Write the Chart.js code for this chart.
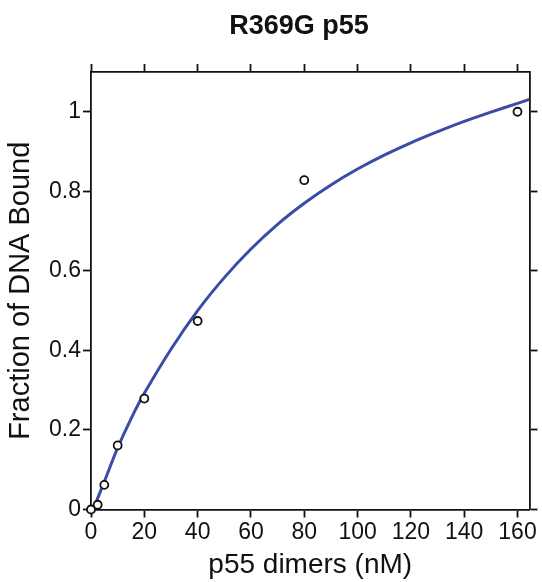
<!DOCTYPE html>
<html lang="en">
<head>
  <meta charset="UTF-8" />
  <title>R369G p55</title>
  <script src="https://cdn.jsdelivr.net/npm/chart.js"></script>
  <style>
    body {
      margin: 0;
      background: #fff;
    }
    canvas {
      display: block;
    }
  </style>
</head>
<body>

<canvas id="grafico" width="542" height="582"></canvas>

<script>
  // Datos medidos
  const dimerosNM = [0, 2.5, 5, 10, 20, 40, 80, 160];
  const fraccionUnida = [0, 0.012, 0.062, 0.161, 0.279, 0.474, 0.828, 1.0];

  // Curva ajustada
  const ajusteX = [0.8, 5, 10, 15, 20, 30, 40, 50, 60, 70, 80, 90, 100, 110, 120, 130, 140, 150, 160, 164.5];
  const ajusteY = [0, 0.07, 0.155, 0.228, 0.292, 0.403, 0.5, 0.583, 0.655, 0.717, 0.77, 0.816, 0.856, 0.891, 0.922, 0.95, 0.976, 0.999, 1.021, 1.031];

  // Marcas de los ejes
  const ticksX = [0, 20, 40, 60, 80, 100, 120, 140, 160];
  const ticksY = [0, 0.2, 0.4, 0.6, 0.8, 1];

  const negro = '#111';
  const fuente = "'Liberation Sans', Arial, Helvetica, sans-serif";

  const grid = {
    drawOnChartArea: false,
    drawTicks: true,
    tickLength: 8,
    tickColor: negro,
    tickWidth: 1.8
  };
  const borde = { display: true, color: negro, width: 1.8 };

  // Titulo dibujado a mano para centrarlo como en la figura
  const tituloPlugin = {
    id: 'tituloCentro',
    afterDraw(chart) {
      const ctx = chart.ctx;
      ctx.save();
      ctx.font = `bold 27px ${fuente}`;
      ctx.fillStyle = negro;
      ctx.textAlign = 'center';
      ctx.textBaseline = 'middle';
      ctx.fillText('R369G p55', 299, 27);
      ctx.restore();
    }
  };

  new Chart(document.getElementById('grafico').getContext('2d'), {
    type: 'scatter',
    data: {
      datasets: [
        {
          label: 'Datos',
          data: dimerosNM.map((x, i) => ({ x, y: fraccionUnida[i] })),
          pointRadius: 4,
          pointBorderWidth: 1.8,
          pointBorderColor: negro,
          pointBackgroundColor: '#fff',
          showLine: false,
          clip: false,
          order: 0
        },
        {
          label: 'Ajuste',
          data: ajusteX.map((x, i) => ({ x, y: ajusteY[i] })),
          showLine: true,
          borderColor: '#3b4ba6',
          borderWidth: 3,
          pointRadius: 0,
          tension: 0.4,
          order: 1
        }
      ]
    },
    options: {
      responsive: false,
      animation: false,
      layout: { padding: { top: 63, left: 0, right: 0, bottom: 0 } },
      plugins: {
        legend: { display: false },
        tooltip: { enabled: false },
        title: { display: false }
      },
      scales: {
        x: {
          type: 'linear',
          position: 'bottom',
          min: 0,
          max: 164.5,
          afterBuildTicks: s => { s.ticks = ticksX.map(v => ({ value: v })); },
          afterFit: s => { s.height = 72.5; },
          border: borde,
          grid: grid,
          ticks: {
            color: negro,
            font: { family: fuente, size: 23 },
            padding: 1,
            maxRotation: 0,
            callback: v => String(v)
          },
          title: {
            display: true,
            text: 'p55 dimers (nM)',
            color: negro,
            font: { family: fuente, size: 28 },
            padding: { top: 0, bottom: 0 }
          }
        },
        x2: {
          type: 'linear',
          axis: 'x',
          position: 'top',
          min: 0,
          max: 164.5,
          afterBuildTicks: s => { s.ticks = ticksX.map(v => ({ value: v })); },
          afterFit: s => { s.height = 9; },
          border: borde,
          grid: grid,
          ticks: { display: false }
        },
        y: {
          type: 'linear',
          position: 'left',
          min: 0,
          max: 1.1,
          afterBuildTicks: s => { s.ticks = ticksY.map(v => ({ value: v })); },
          afterFit: s => { s.width = 91; },
          border: borde,
          grid: grid,
          ticks: {
            color: negro,
            font: { family: fuente, size: 23 },
            padding: 2,
            callback: v => String(v)
          },
          title: {
            display: true,
            text: 'Fraction of DNA Bound',
            color: negro,
            font: { family: fuente, size: 29 },
            padding: { top: 4, bottom: 0 }
          }
        },
        y2: {
          type: 'linear',
          axis: 'y',
          position: 'right',
          min: 0,
          max: 1.1,
          afterBuildTicks: s => { s.ticks = ticksY.map(v => ({ value: v })); },
          afterFit: s => { s.width = 12.5; },
          border: borde,
          grid: grid,
          ticks: { display: false }
        }
      }
    },
    plugins: [tituloPlugin]
  });
</script>

</body>
</html>
